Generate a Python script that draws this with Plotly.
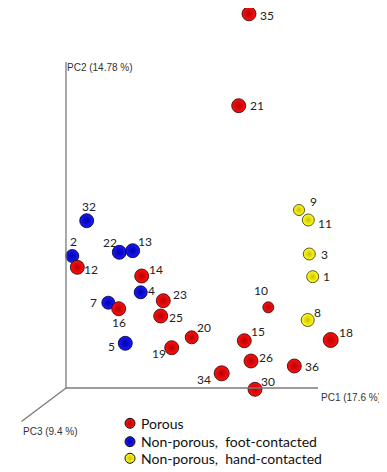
import plotly.graph_objects as go

# ---- data (projected PCA coordinates, origin at the axis corner) ----
sample_ids = ["35", "21", "32", "2", "12", "22", "13", "14", "4", "23", "7", "16", "25", "5",
              "19", "20", "10", "15", "26", "36", "34", "30", "18", "9", "11", "3", "1", "8"]
groups = ["Porous", "Porous", "Foot", "Foot", "Porous", "Foot", "Foot", "Porous", "Foot", "Porous",
          "Foot", "Porous", "Porous", "Foot", "Porous", "Porous", "Porous", "Porous", "Porous",
          "Porous", "Porous", "Porous", "Porous", "Hand", "Hand", "Hand", "Hand", "Hand"]
pc1_proj = [183.0, 172.7, 20.7, 6.3, 11.3, 53.3, 66.7, 75.7, 74.7, 97.3, 42.3, 52.7, 94.7, 59.3,
            105.7, 125.7, 202.3, 178.3, 185.0, 228.3, 155.7, 189.0, 264.7, 233.0, 242.3, 243.3,
            246.7, 241.7]
pc2_proj = [374.2, 282.3, 167.3, 132.0, 120.7, 135.7, 137.3, 112.0, 95.7, 87.3, 85.3, 79.3, 72.0,
            44.7, 40.3, 50.7, 80.7, 47.3, 27.0, 22.0, 14.7, -1.3, 48.0, 178.0, 168.0, 134.0,
            111.3, 68.0]

legend_labels = ["Porous", "Non-porous,  foot-contacted", "Non-porous,  hand-contacted"]
axis_labels = ["PC1 (17.6 %)", "PC2 (14.78 %)", "PC3 (9.4 %)"]

# ---- styles ----
marker_sizes = [14, 14, 14, 13, 14, 14, 14, 14, 13, 14, 13, 14, 14, 14,
                14, 13, 11, 14, 14, 14, 15, 14, 15, 11, 12, 12, 12, 13]
# label offsets in pixels (dx right, dy up)
label_off = [(18, -2), (18, 0), (2, 14), (1, 15), (14, -2), (-9, 10), (12, 9), (14, 7), (11, 2),
             (17, 6), (-15, 0), (0, -14), (15, -1), (-14, -3), (-13, -6), (12, 10), (-7, 17),
             (14, 9), (15, 4), (18, 0), (-18, -6), (13, 8), (15, 8), (14, 9), (17, -3), (15, 0),
             (14, 0), (10, 8)]
grp_style = {
    "Porous": dict(center="#ff1010", edge="#b80000", line="#300000"),
    "Foot": dict(center="#1a1aff", edge="#0000a8", line="#000028"),
    "Hand": dict(center="#ffff20", edge="#d0c000", line="#303000"),
}
grp_order = ["Foot", "Porous", "Hand"]
legend_groups = ["Porous", "Foot", "Hand"]
axis_color = "#7a7a7a"
FONT_NUM = "Lato, Noto Sans, sans-serif"
FONT_AX = "Liberation Sans, Arial, sans-serif"

W, H = 387, 472
PAGE_OFF = 8          # default body margin of the html page
X0, Y0 = 66, 388      # page pixel position of the axis corner

fig = go.Figure()

# axes (3D triad drawn in projection)
fig.add_shape(type="line", x0=0, y0=0, x1=0, y1=326, line=dict(color=axis_color, width=1.3))
fig.add_shape(type="line", x0=0, y0=0, x1=252, y1=0, line=dict(color=axis_color, width=1.3))
fig.add_shape(type="line", x0=0, y0=0, x1=-44.5, y1=-33.5, line=dict(color=axis_color, width=1.3))

fig.add_annotation(x=253, y=-9, text=axis_labels[0], showarrow=False, xanchor="left",
                   font=dict(family=FONT_AX, size=10, color="#333"))
fig.add_annotation(x=-1, y=321, text=axis_labels[1], showarrow=False, xanchor="left",
                   font=dict(family=FONT_AX, size=10, color="#333"))
fig.add_annotation(x=-45, y=-43.5, text=axis_labels[2], showarrow=False, xanchor="left",
                   font=dict(family=FONT_AX, size=10, color="#333"))

# points, grouped
for g in grp_order:
    idx = [i for i, gg in enumerate(groups) if gg == g]
    st = grp_style[g]
    fig.add_trace(go.Scatter(
        x=[pc1_proj[i] for i in idx], y=[pc2_proj[i] for i in idx], mode="markers",
        cliponaxis=False,
        marker=dict(size=[marker_sizes[i] for i in idx], color=st["center"], opacity=1,
                    gradient=dict(type="radial", color=st["edge"]),
                    line=dict(color=st["line"], width=0.8)),
        showlegend=False, hoverinfo="skip"))

# point labels
for i, sid in enumerate(sample_ids):
    dx, dy = label_off[i]
    fig.add_annotation(x=pc1_proj[i], y=pc2_proj[i], text=sid, showarrow=False,
                       xshift=dx, yshift=dy, borderpad=0,
                       font=dict(family=FONT_NUM, size=12, color="#222"))

# legend (manual)
leg_x = 64
leg_y = [-35.3, -53.7, -70.3]
for k, g in enumerate(legend_groups):
    st = grp_style[g]
    fig.add_trace(go.Scatter(
        x=[leg_x], y=[leg_y[k]], mode="markers", cliponaxis=False,
        marker=dict(size=10, color=st["center"], gradient=dict(type="radial", color=st["edge"]),
                    line=dict(color="#111", width=1)),
        showlegend=False, hoverinfo="skip"))
    fig.add_annotation(x=leg_x + 9, y=leg_y[k], text=legend_labels[k], showarrow=False,
                       xanchor="left", font=dict(family=FONT_NUM, size=14, color="#111"))

fig.update_layout(
    width=W - PAGE_OFF, height=H - PAGE_OFF, margin=dict(l=0, r=0, t=0, b=0),
    paper_bgcolor="white", plot_bgcolor="white",
    xaxis=dict(range=[PAGE_OFF - X0, W - X0], visible=False, fixedrange=True),
    yaxis=dict(range=[Y0 - H, Y0 - PAGE_OFF], visible=False, fixedrange=True),
)

fig.write_html("out.html", config={"displayModeBar": False})
